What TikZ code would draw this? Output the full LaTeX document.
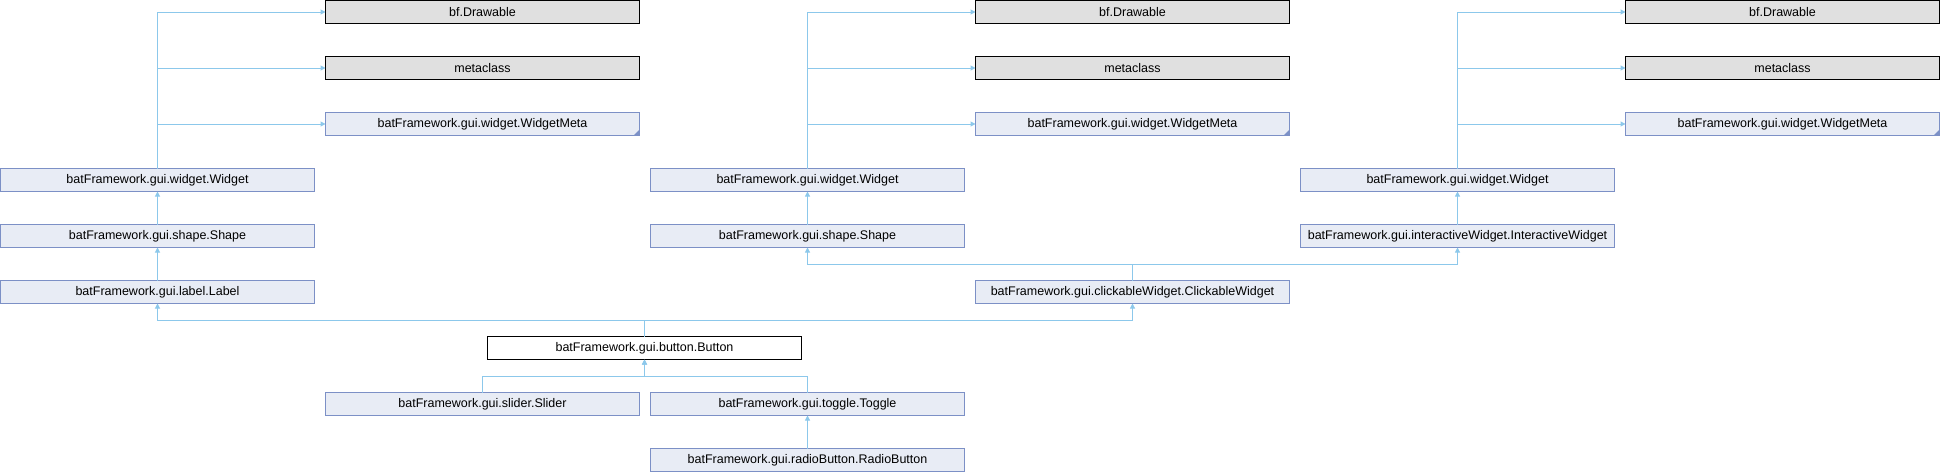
\documentclass[tikz,border=0pt]{standalone}
\usepackage{fontspec}
\setmainfont{Liberation Sans}
\usetikzlibrary{arrows.meta}
\definecolor{docfill}{RGB}{232,236,245}
\definecolor{docborder}{RGB}{124,144,198}
\definecolor{grayfill}{RGB}{224,224,224}
\definecolor{edgecol}{RGB}{140,200,235}
\tikzset{
  cls/.style={draw=docborder, fill=docfill, line width=1pt, minimum width=314pt, minimum height=23pt, inner sep=0pt, outer sep=0pt, font=\fontsize{12.5}{15}\selectfont, text=black},
  ext/.style={cls, draw=black, fill=grayfill},
  cur/.style={cls, draw=black, fill=white},
  edge/.style={draw=edgecol, line width=1pt, -{Triangle[length=5pt,width=5pt]}},
}
\begin{document}
\begin{tikzpicture}[x=1pt,y=-1pt]
\useasboundingbox (0,0) rectangle (1940,472);
% left group
\node[ext] (dB) at (482.5,12) {bf.Drawable};
\node[ext] (mB) at (482.5,68) {metaclass};
\node[cls] (wmB) at (482.5,124) {batFramework.gui.widget.WidgetMeta};
\node[cls] (wA) at (157.5,180) {batFramework.gui.widget.Widget};
\node[cls] (sA) at (157.5,236) {batFramework.gui.shape.Shape};
\node[cls] (lA) at (157.5,292) {batFramework.gui.label.Label};
% middle group
\node[ext] (dD) at (1132.5,12) {bf.Drawable};
\node[ext] (mD) at (1132.5,68) {metaclass};
\node[cls] (wmD) at (1132.5,124) {batFramework.gui.widget.WidgetMeta};
\node[cls] (wC) at (807.5,180) {batFramework.gui.widget.Widget};
\node[cls] (sC) at (807.5,236) {batFramework.gui.shape.Shape};
\node[cls] (cD) at (1132.5,292) {batFramework.gui.clickableWidget.ClickableWidget};
% right group
\node[ext] (dF) at (1782.5,12) {bf.Drawable};
\node[ext] (mF) at (1782.5,68) {metaclass};
\node[cls] (wmF) at (1782.5,124) {batFramework.gui.widget.WidgetMeta};
\node[cls] (wE) at (1457.5,180) {batFramework.gui.widget.Widget};
\node[cls] (iE) at (1457.5,236) {batFramework.gui.interactiveWidget.InteractiveWidget};
% bottom
\node[cur] (btn) at (644.5,348) {batFramework.gui.button.Button};
\node[cls] (slB) at (482.5,404) {batFramework.gui.slider.Slider};
\node[cls] (tgC) at (807.5,404) {batFramework.gui.toggle.Toggle};
\node[cls] (rbC) at (807.5,460) {batFramework.gui.radioButton.RadioButton};
% corner marks
\foreach \n in {wmB,wmD,wmF}{
  \fill[docborder] (\n.south east) -- ++(-6,0) -- ++(6,-6) -- cycle;
}
% edges left group
\draw[edge] (wA.north) |- (dB.west);
\draw[edge] (wA.north) |- (mB.west);
\draw[edge] (wA.north) |- (wmB.west);
\draw[edge] (sA.north) -- (wA.south);
\draw[edge] (lA.north) -- (sA.south);
% middle group
\draw[edge] (wC.north) |- (dD.west);
\draw[edge] (wC.north) |- (mD.west);
\draw[edge] (wC.north) |- (wmD.west);
\draw[edge] (sC.north) -- (wC.south);
\draw[edge] (cD.north) -- ++(0,-16.5) -| (sC.south);
\draw[edge] (cD.north) -- ++(0,-16.5) -| (iE.south);
% right group
\draw[edge] (wE.north) |- (dF.west);
\draw[edge] (wE.north) |- (mF.west);
\draw[edge] (wE.north) |- (wmF.west);
\draw[edge] (iE.north) -- (wE.south);
% button
\draw[edge] (btn.north) -- ++(0,-16.5) -| (lA.south);
\draw[edge] (btn.north) -- ++(0,-16.5) -| (cD.south);
\draw[edge] (slB.north) -- ++(0,-16.5) -| (btn.south);
\draw[edge] (tgC.north) -- ++(0,-16.5) -| (btn.south);
\draw[edge] (rbC.north) -- (tgC.south);
\end{tikzpicture}
\end{document}
